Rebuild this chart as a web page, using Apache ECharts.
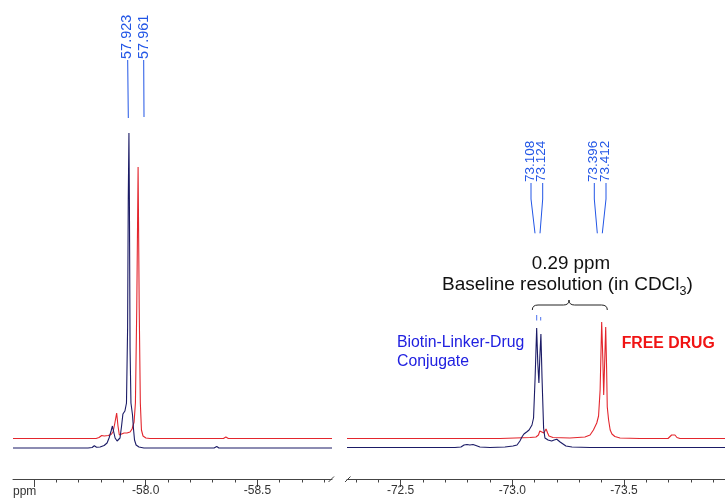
<!DOCTYPE html>
<html><head><meta charset="utf-8">
<script src="https://cdn.jsdelivr.net/npm/echarts@6/dist/echarts.min.js"></script>
<style>html,body{margin:0;padding:0;background:#fff}#c{width:725px;height:498px}</style>
</head><body><div id="c"></div>
<script>
// ---- data (ppm, intensity) ----
const leftBlue = [[-57.406,0],[-57.742,0],[-57.760,0.5],[-57.770,2.3],[-57.780,0.8],[-57.796,1],[-57.814,2.5],[-57.827,5],[-57.836,10],[-57.845,17],[-57.851,22],[-57.856,17],[-57.863,10],[-57.872,7],[-57.878,6.5],[-57.885,10],[-57.892,22],[-57.898,34],[-57.907,37],[-57.914,45],[-57.919,120],[-57.922,250],[-57.925,315],[-57.927,250],[-57.930,100],[-57.934,45],[-57.941,33],[-57.945,20],[-57.950,8],[-57.957,3],[-57.970,1],[-57.992,0],[-58.306,0],[-58.318,1.5],[-58.328,0],[-58.834,0]];
const leftRed = [[-57.406,9.5],[-57.778,9.5],[-57.791,10.5],[-57.803,12.5],[-57.814,12],[-57.832,12.5],[-57.845,13.5],[-57.854,16],[-57.862,25],[-57.870,35],[-57.876,22],[-57.882,13],[-57.890,13.5],[-57.903,15],[-57.916,15],[-57.930,16],[-57.939,19],[-57.948,26],[-57.954,45],[-57.960,140],[-57.966,281],[-57.971,140],[-57.976,45],[-57.981,18],[-57.988,12],[-58.001,10],[-58.019,9.5],[-58.348,9.5],[-58.359,11],[-58.370,9.5],[-58.834,9.5]];
const rightBlue = [[-72.260,0.5],[-72.743,0.5],[-72.770,1],[-72.784,3],[-72.797,3.5],[-72.810,3],[-72.824,3.5],[-72.837,2.5],[-72.855,1],[-72.900,0.5],[-72.967,1],[-73.003,2],[-73.021,3],[-73.034,7],[-73.043,11],[-73.052,14],[-73.064,16],[-73.075,18],[-73.081,19],[-73.088,23],[-73.095,30],[-73.102,70],[-73.109,120],[-73.114,85],[-73.119,65],[-73.123,90],[-73.128,114],[-73.133,70],[-73.140,20],[-73.146,10],[-73.160,8],[-73.176,7],[-73.187,8],[-73.199,8.7],[-73.207,7],[-73.214,6],[-73.222,4],[-73.240,2],[-73.267,1],[-73.348,0.5],[-73.952,0.5]];
const rightRed = [[-72.260,9.5],[-72.945,9.5],[-73.012,10],[-73.079,10.5],[-73.106,11],[-73.117,13],[-73.123,17],[-73.131,19],[-73.141,15],[-73.151,19],[-73.158,15],[-73.164,12],[-73.182,10.5],[-73.258,10],[-73.325,11],[-73.348,13],[-73.363,18],[-73.378,25],[-73.386,32],[-73.393,58],[-73.400,126],[-73.405,90],[-73.409,53],[-73.414,90],[-73.418,121],[-73.422,80],[-73.425,41],[-73.431,28],[-73.438,18],[-73.446,14],[-73.459,11.5],[-73.482,10],[-73.571,9.5],[-73.697,9.5],[-73.705,11],[-73.713,13],[-73.720,11.5],[-73.728,13],[-73.737,10.5],[-73.750,9.5],[-73.952,9.5]];

const leftMajorTicks = [-57.5,-58.0,-58.5];
const leftLabelTicks = [-58.0,-58.5];
const leftMinorTicks = [-57.6,-57.7,-57.8,-57.9,-58.1,-58.2,-58.3,-58.4,-58.6,-58.7,-58.8];
const rightMajorTicks = [-72.5,-73.0,-73.5];
const rightMinorTicks = [-72.3,-72.4,-72.6,-72.7,-72.8,-72.9,-73.1,-73.2,-73.3,-73.4,-73.6,-73.7,-73.8,-73.9];

const peakLabelsLeft = ['57.923','57.961'];
const peakLabelsRight = ['73.108','73.124','73.396','73.412'];

const FONT = '"Liberation Sans", Arial, Helvetica, sans-serif';
const BLUE = '#1b1b66', RED = '#e3262d', LBLUE = '#2256e6';

function xAxes(grid, min, max, majors, labels, minors) {
  return [
    { type:'value', gridIndex:grid, min:min, max:max, inverse:true, position:'bottom',
      axisLine:{show:true, onZero:false, lineStyle:{color:'#444', width:1}},
      axisTick:{show:true, customValues:majors, length:8, lineStyle:{color:'#444'}},
      axisLabel:{show:true, customValues:labels, formatter:v=>v.toFixed(1), fontSize:12, color:'#333', fontFamily:FONT, margin:6},
      splitLine:{show:false} },
    { type:'value', gridIndex:grid, min:min, max:max, inverse:true, position:'bottom',
      axisLine:{show:false, onZero:false},
      axisTick:{show:true, customValues:minors, length:3.5, lineStyle:{color:'#444'}},
      axisLabel:{show:false}, splitLine:{show:false} }
  ];
}

const chart = echarts.init(document.getElementById('c'), null, {renderer:'canvas'});

const meas = document.createElement('canvas').getContext('2d');
function tw(txt, size, weight) { meas.font = (weight||'normal') + ' ' + size + 'px ' + FONT; return meas.measureText(txt).width; }

const graphics = [];
const leftTextX = [126.5, 144], leftLeader = [[[127.7,60],[128.3,118]], [[143.7,60],[144,117]]];
peakLabelsLeft.forEach((t,i)=>{
  graphics.push({type:'text', x:leftTextX[i], y:59, rotation:Math.PI/2, style:{text:t, font:'14.5px '+FONT, fill:LBLUE, textAlign:'left', textVerticalAlign:'middle'}});
  graphics.push({type:'polyline', shape:{points:leftLeader[i]}, style:{stroke:LBLUE, lineWidth:1, fill:null}});
});
const rightTextX = [530, 541.7, 593.3, 605];
const rightLeader = [[[531,183],[531,199],[535,233.3]], [[542.7,183],[542.7,199],[540,233.3]], [[594.3,183],[594.3,199],[597.3,233.3]], [[606,183],[606,199],[602.3,233.3]]];
peakLabelsRight.forEach((t,i)=>{
  graphics.push({type:'text', x:rightTextX[i], y:182, rotation:Math.PI/2, style:{text:t, font:'13.5px '+FONT, fill:LBLUE, textAlign:'left', textVerticalAlign:'middle'}});
  graphics.push({type:'polyline', shape:{points:rightLeader[i]}, style:{stroke:LBLUE, lineWidth:1, fill:null}});
});
graphics.push({type:'text', x:571, y:263.5, style:{text:'0.29 ppm', font:'18.8px '+FONT, fill:'#111', textAlign:'center', textVerticalAlign:'middle'}});
const mainTxt = 'Baseline resolution (in CDCl', subTxt = '3', endTxt = ')';
const w1 = tw(mainTxt,19), w2 = tw(subTxt,12.5), w3 = tw(endTxt,19);
const x0 = 567.4 - (w1+w2+w3)/2;
graphics.push({type:'text', x:x0, y:285.2, style:{text:mainTxt, font:'19px '+FONT, fill:'#111', textAlign:'left', textVerticalAlign:'middle'}});
graphics.push({type:'text', x:x0+w1, y:291.8, style:{text:subTxt, font:'12.5px '+FONT, fill:'#111', textAlign:'left', textVerticalAlign:'middle'}});
graphics.push({type:'text', x:x0+w1+w2, y:285.2, style:{text:endTxt, font:'19px '+FONT, fill:'#111', textAlign:'left', textVerticalAlign:'middle'}});
// brace
const braceStyle = {stroke:'#222', lineWidth:1, fill:null};
graphics.push({type:'bezierCurve', shape:{x1:532.3,y1:310,cpx1:532.3,cpy1:305,x2:538,y2:305}, style:braceStyle});
graphics.push({type:'line', shape:{x1:538,y1:305,x2:563.5,y2:305}, style:braceStyle});
graphics.push({type:'bezierCurve', shape:{x1:563.5,y1:305,cpx1:569,cpy1:305,x2:569,y2:300}, style:braceStyle});
graphics.push({type:'bezierCurve', shape:{x1:569,y1:300,cpx1:569,cpy1:305,x2:574.5,y2:305}, style:braceStyle});
graphics.push({type:'line', shape:{x1:574.5,y1:305,x2:601.5,y2:305}, style:braceStyle});
graphics.push({type:'bezierCurve', shape:{x1:601.5,y1:305,cpx1:607.3,cpy1:305,x2:607.3,y2:310}, style:braceStyle});
// small blue marks
graphics.push({type:'line', shape:{x1:536.7,y1:315,x2:536.7,y2:320.5}, style:{stroke:'#4a70ee', lineWidth:1}});
graphics.push({type:'line', shape:{x1:540.7,y1:317,x2:540.7,y2:320.5}, style:{stroke:'#4a70ee', lineWidth:1}});
graphics.push({type:'text', x:397, y:343.1, style:{text:'Biotin-Linker-Drug', font:'15.8px '+FONT, fill:'#2020e0', textAlign:'left', textVerticalAlign:'middle'}});
graphics.push({type:'text', x:397, y:361.5, style:{text:'Conjugate', font:'15.8px '+FONT, fill:'#2020e0', textAlign:'left', textVerticalAlign:'middle'}});
graphics.push({type:'text', x:621.7, y:343.6, style:{text:'FREE DRUG', font:'bold 15.8px '+FONT, fill:'#f01414', textAlign:'left', textVerticalAlign:'middle'}});
graphics.push({type:'text', x:13, y:491.5, style:{text:'ppm', font:'12px '+FONT, fill:'#333', textAlign:'left', textVerticalAlign:'middle'}});
graphics.push({type:'line', shape:{x1:328.5,y1:482,x2:334,y2:476.5}, style:{stroke:'#444', lineWidth:1}});
graphics.push({type:'line', shape:{x1:345,y1:482,x2:350.5,y2:476.5}, style:{stroke:'#444', lineWidth:1}});

const lineSeries = (data, xi, yi, color, z) => ({type:'line', data:data, xAxisIndex:xi, yAxisIndex:yi, showSymbol:false, symbol:'none', smooth:false, lineStyle:{color:color, width:1.1}, z:z, animation:false});

chart.setOption({
  animation:false,
  backgroundColor:'#fff',
  grid:[
    {left:13, width:319, top:20, bottom:19, containLabel:false, outerBoundsMode:'none'},
    {left:347, right:0, top:20, bottom:19, containLabel:false, outerBoundsMode:'none'}
  ],
  xAxis: [].concat(
    xAxes(0, -58.834, -57.406, leftMajorTicks, leftLabelTicks, leftMinorTicks),
    xAxes(1, -73.952, -72.260, rightMajorTicks, rightMajorTicks, rightMinorTicks)
  ),
  yAxis:[
    {type:'value', gridIndex:0, min:-31, max:428, show:false},
    {type:'value', gridIndex:1, min:-31, max:428, show:false}
  ],
  series:[
    lineSeries(leftRed, 0, 0, RED, 2),
    lineSeries(leftBlue, 0, 0, BLUE, 3),
    lineSeries(rightRed, 2, 1, RED, 2),
    lineSeries(rightBlue, 2, 1, BLUE, 3)
  ],
  graphic: graphics
});
</script></body></html>
